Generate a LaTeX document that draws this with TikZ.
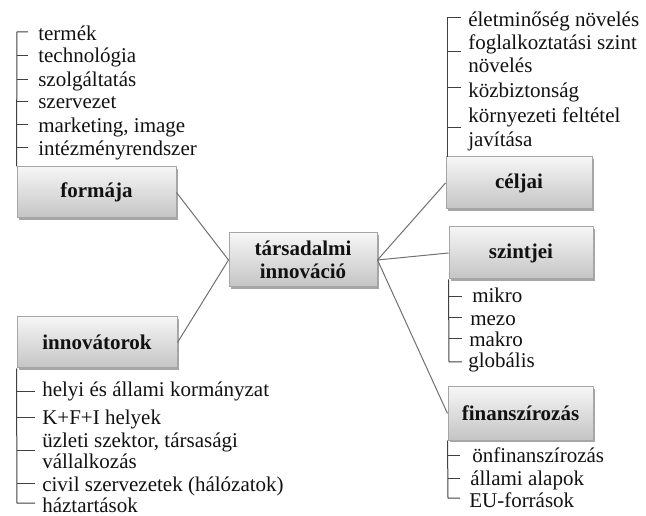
\documentclass[tikz,border=0pt]{standalone}
\usepackage{fontspec}
\setmainfont{Liberation Serif}
\usetikzlibrary{shadows}
\definecolor{boxline}{HTML}{A6A6A6}
\definecolor{boxtop}{HTML}{F6F6F6}
\definecolor{boxbot}{HTML}{C4C4C4}
\definecolor{conncol}{HTML}{707070}
\definecolor{treecol}{HTML}{404040}
\definecolor{textcol}{HTML}{111111}
\begin{document}
\begin{tikzpicture}[x=0.75pt,y=-0.75pt,
  box/.style={rectangle, draw=boxline, line width=0.75pt, top color=boxtop, bottom color=boxbot,
    inner sep=0pt, font=\fontsize{15.75}{17.25}\selectfont\bfseries, align=center, text=textcol,
    drop shadow={shadow xshift=1.6pt, shadow yshift=-1.6pt, fill=black, opacity=0.35}},
  item/.style={anchor=base west, inner sep=0pt, font=\fontsize{15.75}{17.25}\selectfont, text=textcol},
  conn/.style={draw=conncol, line width=0.75pt},
  tree/.style={draw=treecol, line width=0.75pt}]
\useasboundingbox (0,0) rectangle (646,516);

% boxes
\node[box, minimum width=119.25pt, minimum height=38.25pt] (forma) at (96.5,192.5) {formája};
\node[box, minimum width=111pt, minimum height=40.5pt] (center) at (303,260) {társadalmi\\innováció};
\node[box, minimum width=109.5pt, minimum height=39pt] (celjai) at (519,183) {céljai};
\node[box, minimum width=108pt, minimum height=39pt] (szint) at (521,253) {szintjei};
\node[box, minimum width=108.75pt, minimum height=39.75pt] (finan) at (520.5,413.5) {finanszírozás};
\node[box, minimum width=120pt, minimum height=38.25pt] (innov) at (97,342.5) {innovátorok};

% connectors
\draw[conn] (forma.east) -- (center.west);
\draw[conn] (innov.east) -- (center.west);
\draw[conn] (center.east) -- (celjai.west);
\draw[conn] (center.east) -- (szint.west);
\draw[conn] (center.east) -- (finan.west);

% formája list
\coordinate (ftop) at (17,32);
\draw[tree] (28,32) -- (ftop) -- (forma.north west);
\foreach \y in {56,80,102,125,148} \draw[tree] (17,\y) -- (28,\y);
\node[item] (f1) at (38,41) {termék};
\node[item] (f2) at (38,63) {technológia};
\node[item] (f3) at (38,87) {szolgáltatás};
\node[item] (f4) at (38,109) {szervezet};
\node[item] (f5) at (38,133) {marketing, image};
\node[item] (f6) at (38,156) {intézményrendszer};

% céljai list
\coordinate (ctop) at (447,18);
\draw[tree] (461,18) -- (ctop) -- (447,157);
\foreach \y in {52,88,128} \draw[tree] (447,\y) -- (461,\y);
\node[item] (c1) at (468,27) {életminőség növelés};
\node[item] (c2) at (468,50) {foglalkoztatási szint};
\node[item] (c3) at (468,73) {növelés};
\node[item] (c4) at (468,98) {közbiztonság};
\node[item] (c5) at (468,123) {környezeti feltétel};
\node[item] (c6) at (468,147) {javítása};

% szintjei list
\coordinate (sbot) at (449,362);
\draw[tree] (szint.south west) -- (sbot) -- (462,362);
\foreach \y in {297,318,339} \draw[tree] (449,\y) -- (462,\y);
\node[item] (s1) at (472,303) {mikro};
\node[item] (s2) at (470,326) {mezo};
\node[item] (s3) at (469,347) {makro};
\node[item] (s4) at (468,368) {globális};

% finanszírozás list
\coordinate (fbot) at (448,498);
\draw[tree] (finan.south west) -- (fbot) -- (460,498);
\foreach \y in {455,478} \draw[tree] (448,\y) -- (460,\y);
\node[item] (n1) at (472,462) {önfinanszírozás};
\node[item] (n2) at (470,485) {állami alapok};
\node[item] (n3) at (469,507) {EU-források};

% innovátorok list
\coordinate (ibot) at (17,503);
\draw[tree] (innov.south west) -- (ibot) -- (35,503);
\foreach \y in {392,418,450,483} \draw[tree] (17,\y) -- (35,\y);
\node[item] (i1) at (42,397) {helyi és állami kormányzat};
\node[item] (i2) at (42,425) {K+F+I helyek};
\node[item] (i3) at (42,447) {üzleti szektor, társasági};
\node[item] (i4) at (42,468) {vállalkozás};
\node[item] (i5) at (42,491) {civil szervezetek (hálózatok)};
\node[item] (i6) at (42,512) {háztartások};
\end{tikzpicture}
\end{document}
